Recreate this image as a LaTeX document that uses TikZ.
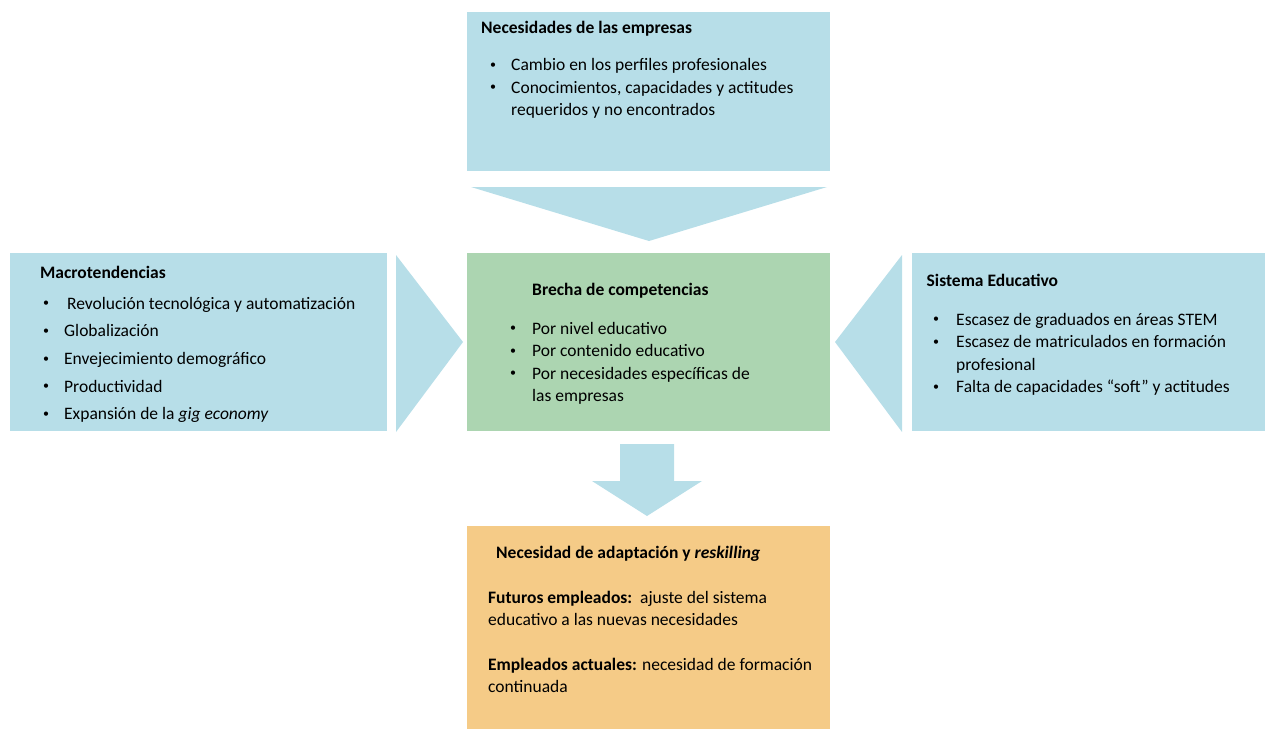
\documentclass[tikz,border=0pt]{standalone}
\usepackage{fontspec}
\setmainfont{Carlito}
\usetikzlibrary{positioning,calc}
\definecolor{cajaazul}{RGB}{183,222,232}
\definecolor{cajaverde}{RGB}{172,213,177}
\definecolor{cajanaranja}{RGB}{245,203,135}
\tikzset{
  caja/.style={anchor=north west, inner sep=0pt, outer sep=0pt, draw=none},
  texto/.style={anchor=base west, inner sep=0pt, font=\fontsize{17.5}{22.5}\selectfont},
  flecha/.style={fill=cajaazul}
}
\newcommand{\punto}{\raisebox{0.12em}{\fontsize{12}{12}\selectfont\textbullet}}
\begin{document}
\begin{tikzpicture}[x=1pt,y=-1pt]
\useasboundingbox (0,0) rectangle (1265,729);
% cajas
\node[caja, fill=cajaazul, minimum width=363, minimum height=159] (empresas) at (467,12) {};
\node[caja, fill=cajaazul, minimum width=377, minimum height=178] (macro) at (10,253) {};
\node[caja, fill=cajaverde, minimum width=363, minimum height=178] (brecha) at (467,253) {};
\node[caja, fill=cajaazul, minimum width=353, minimum height=178] (sistema) at (912,253) {};
\node[caja, fill=cajanaranja, minimum width=363, minimum height=203] (adaptacion) at (467,526) {};
% flechas
\fill[flecha] ($(empresas.south west)+(4,16)$) -- ($(empresas.south east)+(-3,16)$)
  -- ($(brecha.north)+(0.5,-12)$) -- cycle;
\fill[flecha] ($(macro.north east)+(9,2)$) -- ($(brecha.west)+(-4,0)$)
  -- ($(macro.south east)+(9,1)$) -- cycle;
\fill[flecha] ($(sistema.north west)+(-10,2)$) -- ($(brecha.east)+(5,0)$)
  -- ($(sistema.south west)+(-10,1)$) -- cycle;
\fill[flecha] ($(brecha.south)+(-28.5,13)$) -- ($(brecha.south)+(25.5,13)$)
  -- ($(brecha.south)+(25.5,50)$) -- ($(brecha.south)+(53.5,50)$)
  -- ($(adaptacion.north)+(-1.5,-10)$)
  -- ($(brecha.south)+(-56.5,50)$) -- ($(brecha.south)+(-28.5,50)$) -- cycle;
% textos
\node[texto] (tit-empresas) at (481,33) {\bfseries Necesidades de las empresas};
\node[texto] (lista-empresas) at (490,70.5) {%
  \begin{tabular}[t]{@{}p{21pt}@{}l@{}}
  \punto & Cambio en los perfiles profesionales\\
  \punto & Conocimientos, capacidades y actitudes\\
         & requeridos y no encontrados
  \end{tabular}};
\node[texto] (tit-macro) at (40,278) {\bfseries Macrotendencias};
\node[texto] (lista-macro) at (43,309) {\renewcommand{\arraystretch}{1.23}%
  \begin{tabular}[t]{@{}p{21pt}@{}l@{}}
  \punto & \,Revolución tecnológica y automatización\\
  \punto & Globalización\\
  \punto & Envejecimiento demográfico\\
  \punto & Productividad\\
  \punto & Expansión de la \textit{gig economy}
  \end{tabular}};
\node[texto] (tit-brecha) at (532,295) {\bfseries Brecha de competencias};
\node[texto] (lista-brecha) at (510,334) {%
  \begin{tabular}[t]{@{}p{22pt}@{}l@{}}
  \punto & Por nivel educativo\\
  \punto & Por contenido educativo\\
  \punto & Por necesidades específicas de\\
         & las empresas
  \end{tabular}};
\node[texto] (tit-sistema) at (926.5,286.5) {\bfseries Sistema Educativo};
\node[texto] (lista-sistema) at (933,325) {%
  \begin{tabular}[t]{@{}p{23pt}@{}l@{}}
  \punto & Escasez de graduados en áreas STEM\\
  \punto & Escasez de matriculados en formación\\
         & profesional\\
  \punto & Falta de capacidades “soft” y actitudes
  \end{tabular}};
\node[texto] (tit-adaptacion) at (496,558) {\bfseries Necesidad de adaptación y \textit{reskilling}};
\node[texto] (futuros) at (488,603) {%
  \begin{tabular}[t]{@{}l@{}}
  \textbf{Futuros empleados:}\ \ ajuste del sistema\\
  educativo a las nuevas necesidades
  \end{tabular}};
\node[texto] (actuales) at (488,670) {%
  \begin{tabular}[t]{@{}l@{}}
  \textbf{Empleados actuales:} necesidad de formación\\
  continuada
  \end{tabular}};
\end{tikzpicture}
\end{document}
